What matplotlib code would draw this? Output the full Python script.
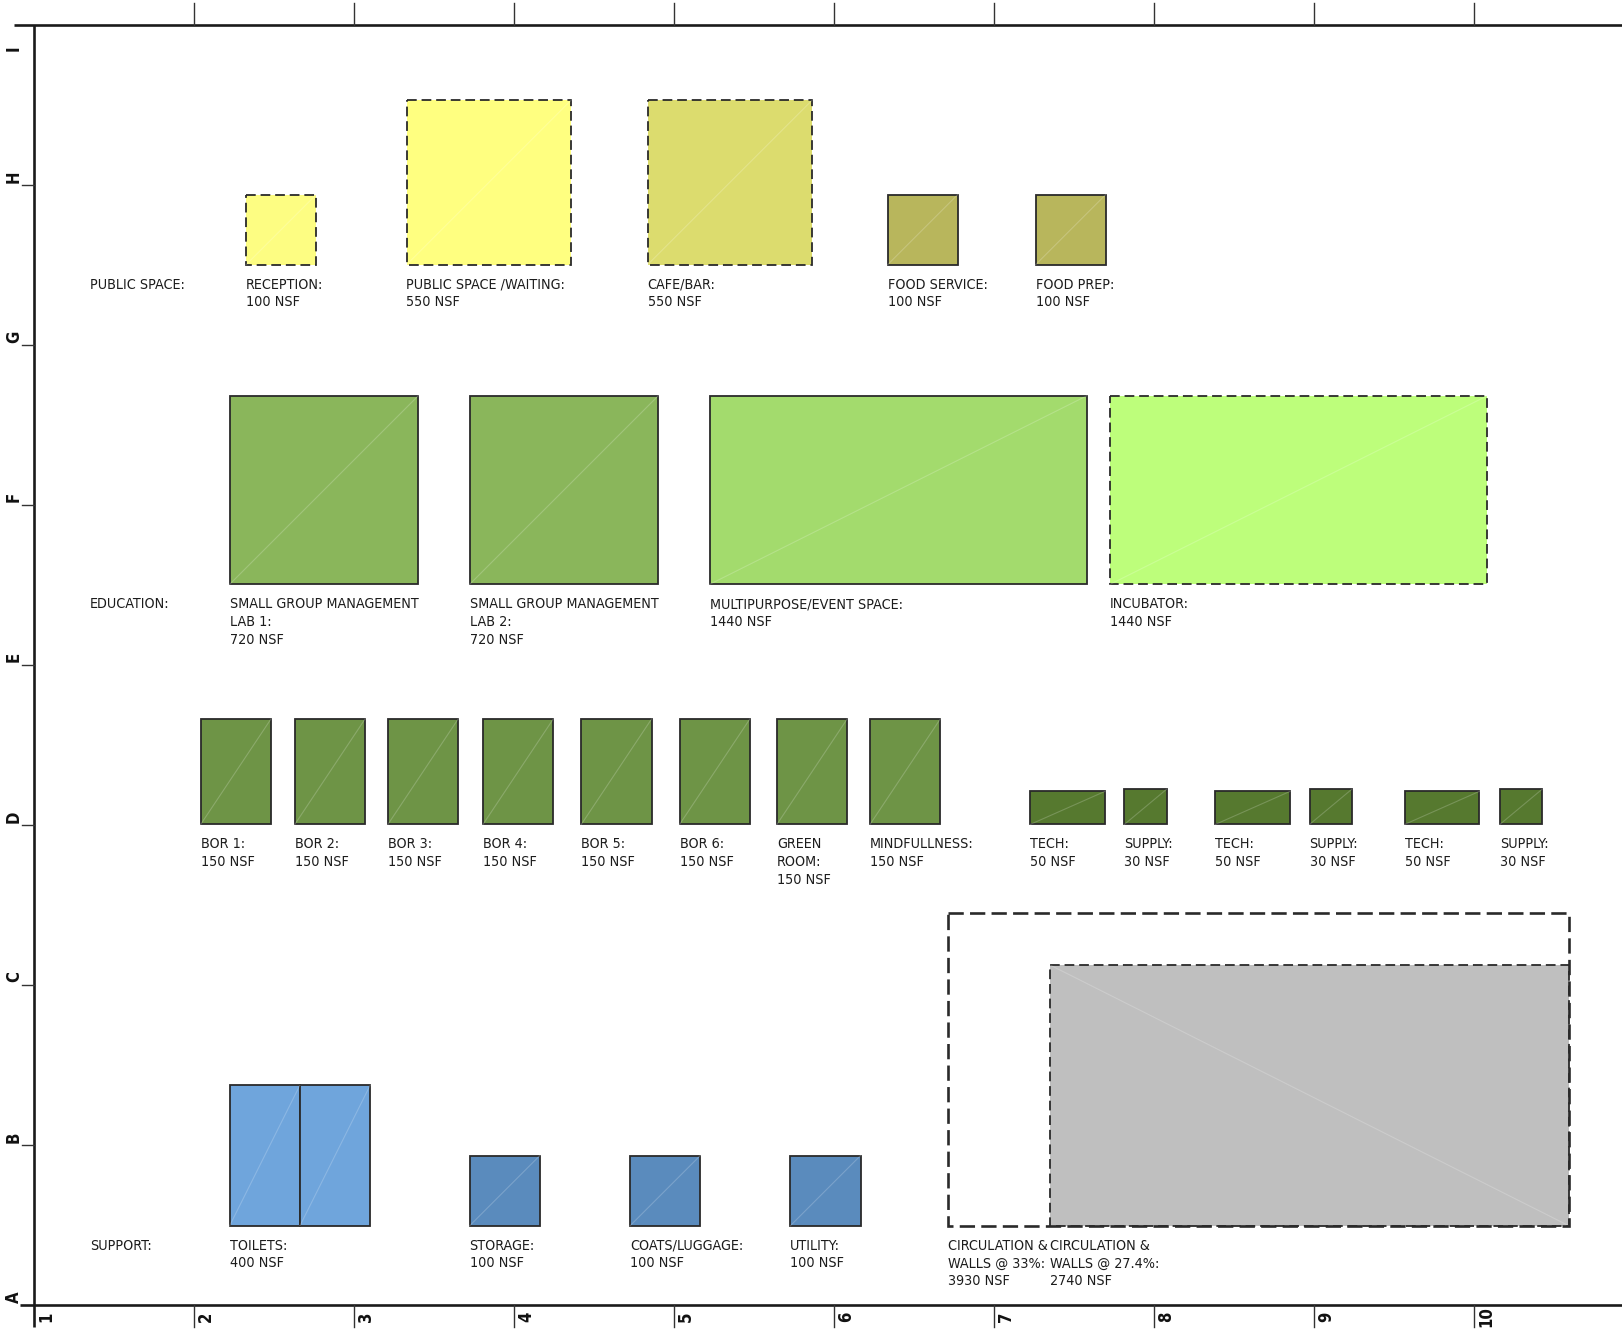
import os
import numpy as np
import matplotlib
matplotlib.use('Agg')
import matplotlib.pyplot as plt
from matplotlib import font_manager
from matplotlib.patches import Rectangle

# ---- program data (names + net square feet) ----
public_names = ["RECEPTION:", "PUBLIC SPACE /WAITING:", "CAFE/BAR:", "FOOD SERVICE:", "FOOD PREP:"]
public_nsf = [100, 550, 550, 100, 100]

education_names = ["SMALL GROUP MANAGEMENT\nLAB 1:", "SMALL GROUP MANAGEMENT\nLAB 2:",
                   "MULTIPURPOSE/EVENT SPACE:", "INCUBATOR:"]
education_nsf = [720, 720, 1440, 1440]

breakout_names = ["BOR 1:", "BOR 2:", "BOR 3:", "BOR 4:", "BOR 5:", "BOR 6:",
                  "GREEN\nROOM:", "MINDFULLNESS:"]
breakout_nsf = [150, 150, 150, 150, 150, 150, 150, 150]

service_names = ["TECH:", "SUPPLY:", "TECH:", "SUPPLY:", "TECH:", "SUPPLY:"]
service_nsf = [50, 30, 50, 30, 50, 30]

support_names = ["TOILETS:", "STORAGE:", "COATS/LUGGAGE:", "UTILITY:"]
support_nsf = [400, 100, 100, 100]

circulation_names = ["CIRCULATION &\nWALLS @ 33%:", "CIRCULATION &\nWALLS @ 27.4%:"]
circulation_nsf = [3930, 2740]

row_titles = ["PUBLIC SPACE:", "EDUCATION:", "SUPPORT:"]
row_letters = ["A", "B", "C", "D", "E", "F", "G", "H", "I"]
col_numbers = ["1", "2", "3", "4", "5", "6", "7", "8", "9", "10"]

# ---- layout (pixels of the sheet, y downwards) ----
PX_PER_FT = 7.03
GRID = 160.0
X0, Y_TOP, Y_BOT = 34.0, 25.0, 1305.0

public_x = [246, 406.5, 647.5, 887.5, 1035.5]
public_base = 264.8
public_aspect = [1, 1, 1, 1, 1]
public_dashed = [True, True, True, False, False]
public_colors = ['#FDFD82', '#FFFF80', '#DCDC6E', '#B8B65C', '#B8B65C']

edu_x = [229.6, 469.6, 709.6, 1110]
edu_base = 584.4
edu_aspect = [1, 1, 2, 2]
edu_dashed = [False, False, False, True]
edu_colors = ['#8AB65B', '#8AB65B', '#A3DB6D', '#BDFE7B']

bor_x = [200.7, 294.8, 387.9, 483, 581.3, 679.6, 776.9, 870]
bor_base = 824.4
bor_color = '#6E9446'

svc_x = [1030.3, 1124.4, 1215.4, 1309.6, 1404.7, 1499.9]
svc_aspect = [2.26, 1.2, 2.26, 1.2, 2.26, 1.2]
svc_color = '#56792F'

sup_x = [229.6, 469.6, 630, 790.3]
sup_base = 1225.8
sup_colors = ['#6FA5DC', '#5A8BBD', '#5A8BBD', '#5A8BBD']

circ_right = 1569
circ_aspect = [1.987, 1.99]

LABEL_DY = 24.0
LINE_DY = 17.6
EDGE = '#2a2a2a'
TXT = '#1c1c1c'


def find_font(prefs):
    files = [f.fname for f in font_manager.fontManager.ttflist]
    for p in prefs:
        for f in files:
            if p in os.path.basename(f).lower():
                return f
    return None


narrow = find_font(['liberationsansnarrow-regular', 'dejavusanscondensed.ttf',
                    'robotocondensed-regular', 'opensans_condensed-regular'])
narrow_bold = find_font(['liberationsansnarrow-bold.', 'dejavusanscondensed-bold.ttf',
                         'robotocondensed-bold'])
if narrow is not None:
    fp = font_manager.FontProperties(fname=narrow, size=10.3)
else:
    fp = font_manager.FontProperties(family='DejaVu Sans', size=8.6)
if narrow_bold is not None:
    fp_grid = font_manager.FontProperties(fname=narrow_bold, size=12)
else:
    fp_grid = font_manager.FontProperties(family='DejaVu Sans', weight='bold', size=11)

plt.rcParams['lines.scale_dashes'] = False

fig = plt.figure(figsize=(16.22, 13.32), dpi=100)
ax = fig.add_axes([0, 0, 1, 1])
ax.set_xlim(0, 1622)
ax.set_ylim(1332, 0)
ax.axis('off')


def room(x, base, nsf, aspect, color, dashed=False, diag='up', lw=1.3, dash=(7, 3.5), z=2):
    h = np.sqrt(nsf * PX_PER_FT ** 2 / aspect)
    w = aspect * h
    ls = (0, dash) if dashed else 'solid'
    ax.add_patch(Rectangle((x, base - h), w, h, facecolor=color, edgecolor=EDGE,
                           linewidth=lw, linestyle=ls, zorder=z))
    if color != 'none':
        if diag == 'up':
            ax.plot([x, x + w], [base, base - h], color='white', alpha=0.2, lw=0.8, zorder=z + 0.1)
        else:
            ax.plot([x, x + w], [base - h, base], color='white', alpha=0.2, lw=0.8, zorder=z + 0.1)
    return w, h


def label(x, base, name, nsf):
    lines = name.split('\n') + ["%d NSF" % nsf]
    for i, s in enumerate(lines):
        ax.text(x, base + LABEL_DY + i * LINE_DY, s, fontproperties=fp, color=TXT,
                ha='left', va='baseline')


# ---- sheet frame and grid marks ----
ax.plot([14, 1622], [Y_TOP, Y_TOP], color='#1a1a1a', lw=1.9, solid_capstyle='butt')
ax.plot([20, 1622], [Y_BOT, Y_BOT], color='#1a1a1a', lw=1.9, solid_capstyle='butt')
ax.plot([X0, X0], [Y_TOP, 1327], color='#1a1a1a', lw=1.9, solid_capstyle='butt')
for k in range(1, 10):
    xc = X0 + k * GRID
    ax.plot([xc, xc], [3, Y_TOP], color='#333333', lw=1.0)
for k, num in enumerate(col_numbers):
    xc = X0 + k * GRID
    if k > 0:
        ax.plot([xc, xc], [Y_BOT, 1327], color='#333333', lw=1.0)
    ax.text(xc + 12, 1317, num, fontproperties=fp_grid, rotation=90,
            ha='center', va='center', color='#111111')
for k, let in enumerate(row_letters):
    yc = Y_BOT - k * GRID
    if 0 < k < 8:
        ax.plot([22, X0], [yc, yc], color='#333333', lw=1.0)
    ty = yc - 8 if k < 8 else 48
    ax.text(14, ty, let, fontproperties=fp_grid, rotation=90,
            ha='center', va='center', color='#111111')

# ---- public space ----
for name, nsf, x, a, d, c in zip(public_names, public_nsf, public_x, public_aspect,
                                  public_dashed, public_colors):
    room(x, public_base, nsf, a, c, dashed=d)
    label(x, public_base, name, nsf)
ax.text(90, public_base + LABEL_DY, row_titles[0], fontproperties=fp, color=TXT, va='baseline')

# ---- education ----
for name, nsf, x, a, d, c in zip(education_names, education_nsf, edu_x, edu_aspect,
                                  edu_dashed, edu_colors):
    room(x, edu_base, nsf, a, c, dashed=d)
    label(x, edu_base, name, nsf)
ax.text(90, edu_base + LABEL_DY, row_titles[1], fontproperties=fp, color=TXT, va='baseline')

# ---- breakout rooms + tech/supply ----
for name, nsf, x in zip(breakout_names, breakout_nsf, bor_x):
    room(x, bor_base, nsf, 2 / 3, bor_color)
    label(x, bor_base, name, nsf)
for name, nsf, x, a in zip(service_names, service_nsf, svc_x, svc_aspect):
    room(x, bor_base, nsf, a, svc_color)
    label(x, bor_base, name, nsf)

# ---- support ----
for i, (name, nsf, x, c) in enumerate(zip(support_names, support_nsf, sup_x, sup_colors)):
    if i == 0:
        # toilets drawn as two equal halves
        w, h = room(x, sup_base, nsf / 2, 0.5, c)
        room(x + w, sup_base, nsf / 2, 0.5, c)
    else:
        room(x, sup_base, nsf, 1, c)
    label(x, sup_base, name, nsf)
ax.text(90, sup_base + LABEL_DY, row_titles[2], fontproperties=fp, color=TXT, va='baseline')

# ---- circulation ----
h0 = np.sqrt(circulation_nsf[0] * PX_PER_FT ** 2 / circ_aspect[0])
w0 = circ_aspect[0] * h0
x_outer = circ_right - w0
room(x_outer, sup_base, circulation_nsf[0], circ_aspect[0], 'none', dashed=True,
     lw=1.9, dash=(11, 4.5), z=3)
h1 = np.sqrt(circulation_nsf[1] * PX_PER_FT ** 2 / circ_aspect[1])
w1 = circ_aspect[1] * h1
x_inner = circ_right - w1
room(x_inner, sup_base, circulation_nsf[1], circ_aspect[1], '#BFBFBF', dashed=True,
     diag='down', dash=(7, 3.5))
label(x_outer, sup_base, circulation_names[0], circulation_nsf[0])
label(x_inner, sup_base, circulation_names[1], circulation_nsf[1])

fig.savefig('out.png', dpi=100, facecolor='white')
